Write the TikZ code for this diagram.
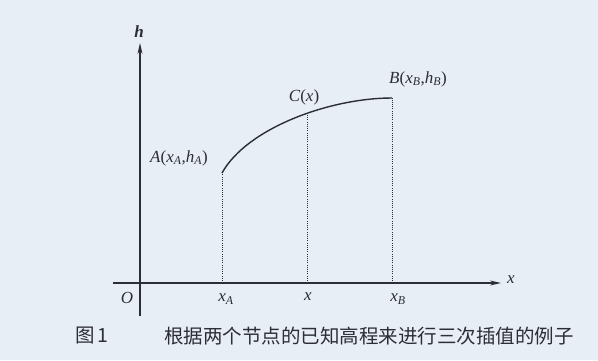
\documentclass[tikz,border=0pt]{standalone}
\usepackage{fontspec}
\setmainfont{Liberation Serif}
\newfontfamily\cjk{Noto Sans CJK SC}
\usetikzlibrary{arrows.meta}
\definecolor{bgc}{RGB}{232,238,245}
\definecolor{ink}{RGB}{45,45,55}
\tikzset{
  axis/.style={line width=1.3pt, ink, -{Stealth[length=11pt,width=5pt]}},
  drop/.style={line width=0.9pt, ink, dash pattern=on 0.9pt off 1.3pt},
  curve/.style={line width=1.4pt, ink},
  lbl/.style={inner sep=0pt, text=ink, font=\fontsize{17}{19}\selectfont},
  captext/.style={inner sep=0pt, text=ink, anchor=west, font=\cjk\fontsize{19.5}{22}\selectfont}
}
\begin{document}
\begin{tikzpicture}[x=1pt,y=-1pt]
\fill[bgc] (0,0) rectangle (598,360);
\useasboundingbox (0,0) rectangle (598,360);
% axes
\coordinate (ybot) at (140,316);
\coordinate (ytop) at (140,43);
\coordinate (xl) at (113,283);
\coordinate (xr) at (501,283);
\draw[axis] (ybot) -- (ytop);
\draw[axis] (xl) -- (xr);
\node[lbl] (hl) at (139,32) {\textit{\textbf{h}}};
\node[lbl] (xlab) at (511,280) {\textit{x}};
\node[lbl] (O) at (127,298) {\textit{O}};
% points
\coordinate (A) at (222,173);
\coordinate (B) at (392,98);
\coordinate (C) at (307,112);
\coordinate (xA) at (222,283);
\coordinate (xC) at (307,283);
\coordinate (xB) at (392,283);
\draw[drop] (xA) -- (A);
\draw[drop] (xC) -- (C);
\draw[drop] (xB) -- (B);
\draw[curve] (A) .. controls (247,128) and (330,98) .. (B);
% labels
\node[lbl] (Al) at (179,158) {\textit{A}(\textit{x}\textsubscript{\textit{A}},\textit{h}\textsubscript{\textit{A}})};
\node[lbl] (Cl) at (304,97) {\textit{C}(\textit{x})};
\node[lbl] (Bl) at (418,79) {\textit{B}(\textit{x}\textsubscript{\textit{B}},\textit{h}\textsubscript{\textit{B}})};
\node[lbl] (tA) at (226,299) {\textit{x}\textsubscript{\textit{A}}};
\node[lbl] (tC) at (308,297) {\textit{x}};
\node[lbl] (tB) at (398,299) {\textit{x}\textsubscript{\textit{B}}};
% caption
\node[captext] (cap1) at (75,336) {图\,1};
\node[captext] (cap2) at (164,336) {根据两个节点的已知高程来进行三次插值的例子};
\end{tikzpicture}
\end{document}
